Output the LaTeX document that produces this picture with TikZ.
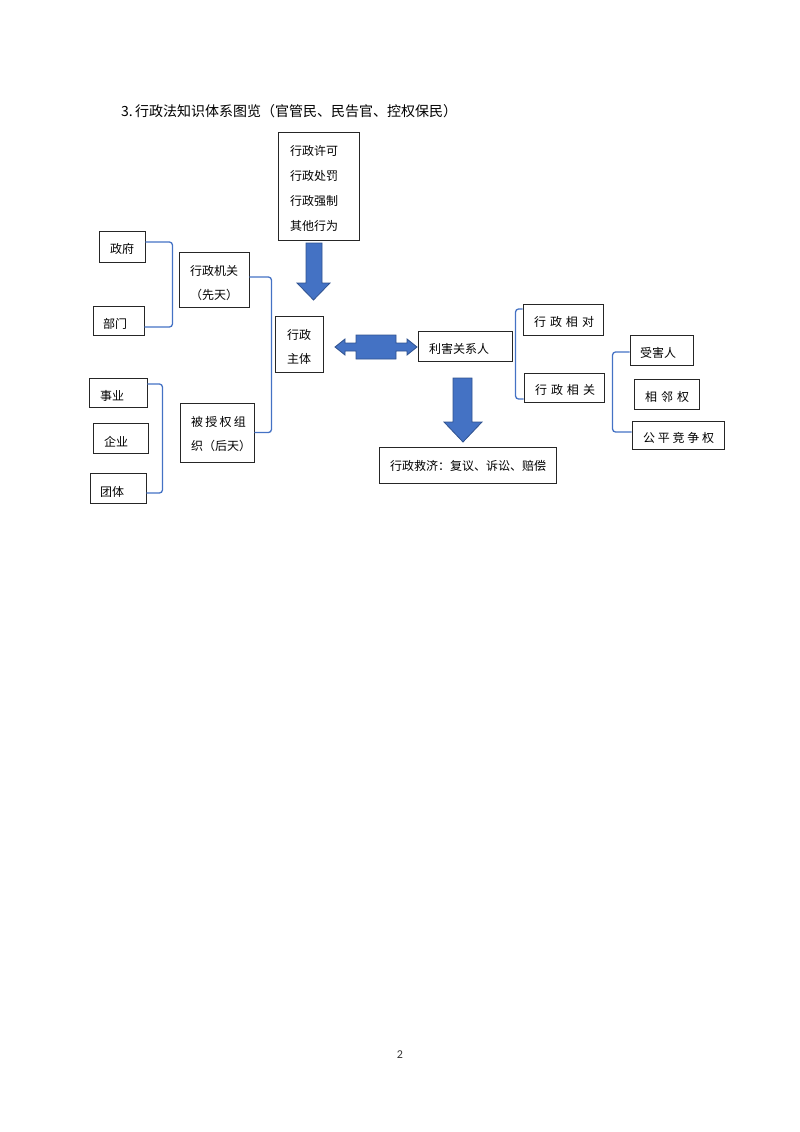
\documentclass[tikz,border=0pt]{standalone}
\usepackage{fontspec}
\newfontfamily\cjk{Noto Sans CJK SC}
\newfontfamily\pnum{Carlito}
\definecolor{lblue}{HTML}{4472C4}
\definecolor{aedge}{HTML}{2F528F}
\definecolor{bord}{HTML}{262626}
\begin{document}
\begin{tikzpicture}[x=1pt,y=-1pt,
  box/.style={draw=bord, line width=0.9pt, inner ysep=0pt, inner xsep=0pt,
              font=\cjk\fontsize{12}{24}\selectfont},
  lbox/.style={box, align=left, inner xsep=11pt},
  lowtxt/.style={text height=#1, text depth=1pt},
  lowtxt/.default=15.5pt,
  bline/.style={draw=lblue, line width=1.3pt, rounded corners=3pt},
  barrow/.style={fill=lblue, draw=aedge, line width=0.8pt, line join=miter}]
\useasboundingbox (0,0) rectangle (800,1132);

% title
\node[anchor=west, inner sep=0pt, font=\cjk\fontsize{14}{16}\selectfont] (title) at (121,111)
  {3.\,行政法知识体系图览（官管民、民告官、控权保民）};

% boxes
\node[lbox, inner xsep=12pt, text width=57pt, minimum width=81pt, minimum height=108pt,
      font=\cjk\fontsize{12}{25}\selectfont] (tp) at (318.5,186)
  {\rule{0pt}{15pt}行政许可\\行政处罚\\行政强制\\其他行为};
\node[box, lowtxt, minimum width=46pt, minimum height=31pt] (zf) at (122,246.5) {政府};
\node[lbox, lowtxt=17.5pt, inner xsep=10pt, text width=31pt, minimum width=51pt, minimum height=29pt] (bm) at (118.5,320.5) {部门};
\node[box, align=center, minimum width=70pt, minimum height=55pt] (jg) at (214,279.5)
  {\rule{0pt}{17pt}行政机关\\（先天）};
\node[box, align=center, minimum width=48pt, minimum height=56pt] (zt) at (299,344)
  {\rule{0pt}{16pt}行政\\主体};
\node[lbox, lowtxt=16.5pt, text width=36pt, minimum width=58pt, minimum height=29pt] (sy) at (118,392.5) {事业};
\node[lbox, lowtxt=17pt, text width=33pt, minimum width=55pt, minimum height=30pt] (qy) at (120.5,438) {企业};
\node[lbox, lowtxt=17pt, inner xsep=10pt, text width=36pt, minimum width=56pt, minimum height=30pt] (tt) at (118,488) {团体};
\node[lbox, text width=52pt, minimum width=74pt, minimum height=59pt] (sq) at (217,432.5)
  {\rule{0pt}{13pt}被\kern2.3pt 授\kern2.3pt 权\kern2.3pt 组\\织（后天）};
\node[lbox, lowtxt, text width=72pt, minimum width=94pt, minimum height=30pt] (lh) at (465,346) {利害关系人};
\node[lbox, text height=12pt, text depth=1pt, text width=155pt, minimum width=177pt, minimum height=36pt,
      font=\cjk\fontsize{12}{14}\selectfont] (jj) at (467.5,465) {行政救济：复议、诉讼、赔偿};
\node[lbox, lowtxt=15pt, text width=58pt, minimum width=80pt, minimum height=31pt] (xd) at (563,319.5)
  {行\kern4pt 政\kern4pt 相\kern4pt 对};
\node[lbox, lowtxt=15pt, text width=58pt, minimum width=80pt, minimum height=29pt] (xg) at (564,387.5)
  {行\kern4pt 政\kern4pt 相\kern4pt 关};
\node[lbox, lowtxt, inner xsep=10pt, text width=43pt, minimum width=63pt, minimum height=30pt] (shr) at (661.5,350) {受害人};
\node[lbox, lowtxt, text width=43pt, minimum width=65pt, minimum height=30pt] (xl) at (666.5,394)
  {相\kern4pt 邻\kern4pt 权};
\node[lbox, lowtxt, text width=70pt, minimum width=92pt, minimum height=28pt] (gp) at (678,435)
  {公\kern2.75pt 平\kern2.75pt 竞\kern2.75pt 争\kern2.75pt 权};

% brackets
\draw[bline] ([yshift=4.5pt]zf.east) -- ++(27,0) |- ([yshift=-6.5pt]bm.east);
\draw[bline] ([yshift=2.5pt]jg.east) -- ++(22,0) |- (sq.east);
\draw[bline] ([yshift=8.5pt]sy.east) -- ++(15,0) |- ([yshift=-5pt]tt.east);
\draw[bline] ([yshift=10.5pt]xd.west) -- ++(-7,0) |- ([yshift=-11.5pt]xg.west);
\draw[bline] ([yshift=-2pt]shr.west) -- ++(-17,0) |- ([yshift=3pt]gp.west);

% block arrows
\draw[barrow] (306,243) -- (322,243) -- (322,283) -- (330,283) -- (313.5,300)
  -- (297,283) -- (306,283) -- cycle;
\draw[barrow] (453,378) -- (472,378) -- (472,422) -- (482,422) -- (463,442)
  -- (444,422) -- (453,422) -- cycle;
\draw[barrow] (335,347) -- (345,339) -- (345,343) -- (356,343) -- (356,335)
  -- (396,335) -- (396,343) -- (407,343) -- (407,339) -- (417,347)
  -- (407,355) -- (407,351) -- (396,351) -- (396,359) -- (356,359)
  -- (356,351) -- (345,351) -- (345,355) -- cycle;

% page number
\node[font=\pnum\fontsize{12}{14}\selectfont, text=black!80] (pg) at (400,1055) {2};
\end{tikzpicture}
\end{document}
